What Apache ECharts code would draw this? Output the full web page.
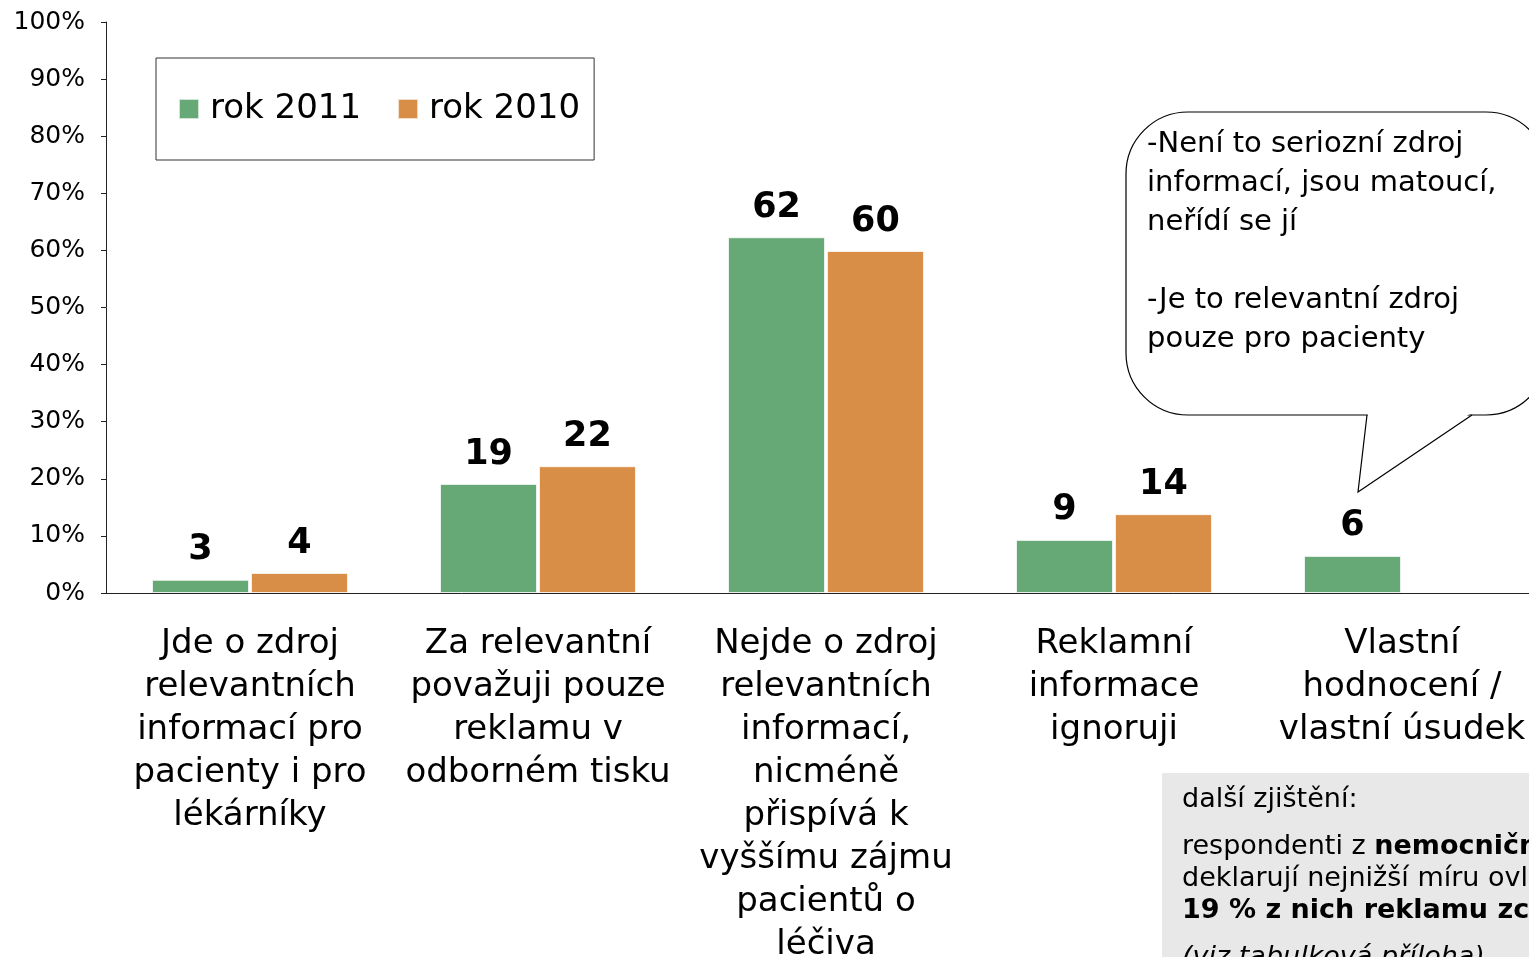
<!DOCTYPE html>
<html>
<head>
<meta charset="utf-8">
<script src="https://cdn.jsdelivr.net/npm/echarts@6/dist/echarts.min.js"></script>
<style>
html,body{margin:0;padding:0;background:#fff;}
#chart{width:1529px;height:957px;}
</style>
</head>
<body>
<div id="chart"></div>
<script>
// kategorie (osa x)
var categories = [
    'Jde o zdroj\nrelevantních\ninformací pro\npacienty i pro\nlékárníky',
    'Za relevantní\npovažuji pouze\nreklamu v\nodborném tisku',
    'Nejde o zdroj\nrelevantních\ninformací,\nnicméně\npřispívá k\nvyššímu zájmu\npacientů o\nléčiva',
    'Reklamní\ninformace\nignoruji',
    'Vlastní\nhodnocení /\nvlastní úsudek'
];
// výška sloupců (%)
var values2011 = [2.3, 19.1, 62.3, 9.3, 6.5];
var values2010 = [3.5, 22.2, 59.9, 13.8, null];
// popisky nad sloupci
var labels2011 = [3, 19, 62, 9, 6];
var labels2010 = [4, 22, 60, 14, ''];
var yTicks = ['0%', '10%', '20%', '30%', '40%', '50%', '60%', '70%', '80%', '90%', '100%'];

var FONT = '"DejaVu Sans", Verdana, sans-serif';

var chart = echarts.init(document.getElementById('chart'));
chart.setOption({
    backgroundColor: '#fff',
    animation: false,
    textStyle: {fontFamily: FONT},
    grid: {left: 106, top: 22, width: 1440, height: 571, outerBoundsMode: 'none', containLabel: false},
    legend: {
        left: 156,
        top: 58,
        padding: [34, 14, 34, 22],
        borderColor: '#333',
        borderWidth: 1,
        itemWidth: 20,
        itemHeight: 20,
        itemGap: 36,
        icon: 'rect',
        textStyle: {fontSize: 34, color: '#000', fontFamily: FONT, padding: [0, 0, 0, 6]},
        data: ['rok 2011', 'rok 2010']
    },
    xAxis: {
        type: 'category',
        data: categories,
        axisLine: {lineStyle: {color: '#222', width: 1}},
        axisTick: {length: 10, lineStyle: {color: '#222'}},
        axisLabel: {
            interval: 0,
            margin: 30,
            fontSize: 34,
            lineHeight: 43,
            color: '#000',
            fontFamily: FONT
        }
    },
    yAxis: {
        type: 'value',
        min: 0,
        max: 100,
        interval: 10,
        splitLine: {show: false},
        axisLine: {show: true, lineStyle: {color: '#222'}},
        axisTick: {show: true, length: 5, lineStyle: {color: '#222'}},
        axisLabel: {
            margin: 21,
            fontSize: 25,
            color: '#000',
            fontFamily: FONT,
            formatter: function (v) { return yTicks[Math.round(v / 10)]; }
        }
    },
    series: [
        {
            name: 'rok 2011',
            type: 'bar',
            data: values2011,
            barWidth: 97,
            barGap: '2%',
            itemStyle: {color: '#67a877', borderColor: 'rgba(255,255,255,0.7)', borderWidth: 1},
            label: {
                show: true,
                position: 'top',
                distance: 12,
                fontSize: 35,
                fontWeight: 'bold',
                color: '#000',
                fontFamily: FONT,
                formatter: function (p) { return labels2011[p.dataIndex]; }
            }
        },
        {
            name: 'rok 2010',
            type: 'bar',
            data: values2010,
            barWidth: 97,
            itemStyle: {color: '#d98e48', borderColor: 'rgba(255,255,255,0.7)', borderWidth: 1},
            label: {
                show: true,
                position: 'top',
                distance: 12,
                fontSize: 35,
                fontWeight: 'bold',
                color: '#000',
                fontFamily: FONT,
                formatter: function (p) { return labels2010[p.dataIndex]; }
            }
        }
    ],
    graphic: [
        // bublina s komentářem
        {
            type: 'rect',
            shape: {x: 1126, y: 112, width: 422, height: 303, r: 62},
            style: {fill: '#fff', stroke: '#000', lineWidth: 1.2},
            z: 10
        },
        {
            type: 'polygon',
            shape: {points: [[1368, 413], [1358, 492], [1471, 413]]},
            style: {fill: '#fff'},
            z: 11
        },
        {
            type: 'polyline',
            shape: {points: [[1367, 415], [1358, 492], [1472, 415]]},
            style: {stroke: '#000', lineWidth: 1.2, fill: null},
            z: 12
        },
        {
            type: 'text',
            left: 1147,
            top: 125,
            z: 13,
            style: {
                text: '-Není to seriozní zdroj\ninformací, jsou matoucí,\nneřídí se jí\n\n-Je to relevantní zdroj\npouze pro pacienty',
                font: '29px ' + FONT,
                lineHeight: 39,
                fill: '#000'
            }
        },
        // šedý box s dalším zjištěním
        {
            type: 'rect',
            shape: {x: 1162, y: 773, width: 420, height: 220},
            style: {fill: '#e8e8e8'},
            z: 10
        },
        {
            type: 'text',
            left: 1182,
            top: 786,
            z: 11,
            style: {
                text: '{n|další zjištění:}\n{s|}\n{n|respondenti z }{b|nemocničních lékáren}\n{n|deklarují nejnižší míru ovlivnění reklamou –}\n{b|19 % z nich reklamu zcela ignoruje}\n{s|}\n{i|(viz tabulková příloha)}',
                font: '27px ' + FONT,
                fill: '#000',
                rich: {
                    n: {fontSize: 27, lineHeight: 32, fontFamily: FONT},
                    b: {fontSize: 27, lineHeight: 32, fontWeight: 'bold', fontFamily: FONT},
                    i: {fontSize: 27, lineHeight: 32, fontStyle: 'italic', fontFamily: FONT},
                    s: {fontSize: 10, lineHeight: 15}
                }
            }
        }
    ]
});
</script>
</body>
</html>
